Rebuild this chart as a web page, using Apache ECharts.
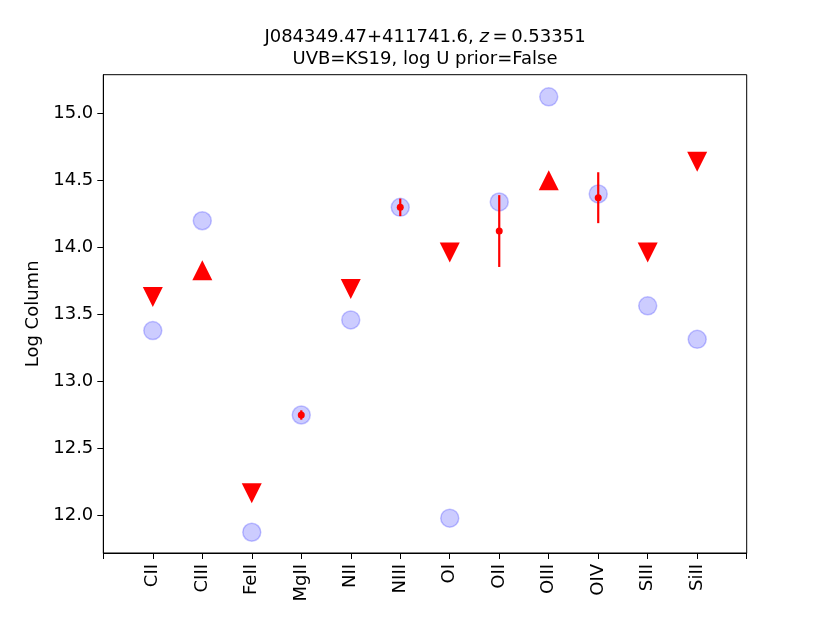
<!DOCTYPE html>
<html><head><meta charset="utf-8">
<script src="https://cdn.jsdelivr.net/npm/echarts@6/dist/echarts.min.js"></script>
<style>html,body{margin:0;padding:0;background:#fff}#c{width:830px;height:623px}</style>
</head><body><div id="c"></div>
<script>
const categories = ['CII','CIII','FeII','MgII','NII','NIII','OI','OII','OIII','OIV','SIII','SiII'];
const modelValues = [13.38, 14.20, 11.875, 12.75, 13.46, 14.30, 11.98, 14.34, 15.125, 14.40, 13.565, 13.315];
const upperLimitIons = ['CII','FeII','NII','OI','SIII','SiII'];
const upperLimitValues = [13.63, 12.166, 13.69, 13.962, 13.962, 14.64];
const lowerLimitIons = ['CIII','OIII'];
const lowerLimitValues = [13.83, 14.503];
const detectionIons = ['MgII','NIII','OII','OIV'];
const detectionValues = [12.75, 14.30, 14.123, 14.372];
const detectionErrors = [0.035, 0.065, 0.268, 0.19];
const yTickValues = [12.0, 12.5, 13.0, 13.5, 14.0, 14.5, 15.0];
const titleLine1 = 'J084349.47+411741.6, ';
const titleZ = 'z';
const titleZValue = '\u2009=\u20090.53351';
const titleLine2 = 'UVB=KS19, log U prior=False';
const yAxisName = 'Log Column';

const FONT = 'DejaVu Sans';
const idx = name => categories.indexOf(name);

const modelData = modelValues.map((v, i) => [i, v]);
const upperData = upperLimitIons.map((n, i) => [idx(n), upperLimitValues[i]]);
const lowerData = lowerLimitIons.map((n, i) => [idx(n), lowerLimitValues[i]]);
const detData = detectionIons.map((n, i) => [idx(n), detectionValues[i]]);
const errData = detectionIons.map((n, i) => [idx(n), detectionValues[i] - detectionErrors[i], detectionValues[i] + detectionErrors[i]]);

const chart = echarts.init(document.getElementById('c'), null, {renderer: 'canvas'});
chart.setOption({
  animation: false,
  backgroundColor: '#fff',
  textStyle: {fontFamily: FONT},
  grid: {left: 103.3, right: 83.3, top: 74.7, bottom: 70, show: true, borderColor: '#000', borderWidth: 1, containLabel: false},
  graphic: [
    {type: 'text', x: 425, y: 37, silent: true,
     style: {text: '{a|' + titleLine1 + '}{i|' + titleZ + '}{a|' + titleZValue + '}',
       x: 0, y: 0, align: 'center', verticalAlign: 'middle', textAlign: 'center', textVerticalAlign: 'middle',
       fill: '#000', font: '18px "DejaVu Sans"',
       rich: {a: {fontSize: 18, fontFamily: FONT, fill: '#000', color: '#000'}, i: {fontSize: 18, fontFamily: FONT, fontStyle: 'italic', fill: '#000', color: '#000'}}}},
    {type: 'text', x: 425, y: 59, silent: true,
     style: {text: titleLine2, x: 0, y: 0, align: 'center', verticalAlign: 'middle', textAlign: 'center', textVerticalAlign: 'middle', fill: '#000', font: '18px "DejaVu Sans"'}}
  ],
  xAxis: {
    type: 'value', min: -1, max: 12, interval: 1,
    splitLine: {show: false},
    axisLine: {show: true, onZero: false, lineStyle: {color: '#000', width: 1}},
    axisTick: {show: true, length: 6, lineStyle: {color: '#000', width: 1}},
    axisLabel: {rotate: 90, margin: 11, color: '#000', fontSize: 18, fontFamily: FONT,
      formatter: v => (Number.isInteger(v) && v >= 0 && v < categories.length) ? categories[v] : ''}
  },
  yAxis: {
    type: 'value', min: 11.72, max: 15.29,
    name: yAxisName, nameLocation: 'middle', nameRotate: 90, nameGap: 60,
    nameTextStyle: {color: '#000', fontSize: 18, fontFamily: FONT},
    splitLine: {show: false},
    axisLine: {show: true, onZero: false, lineStyle: {color: '#000', width: 1}},
    axisTick: {show: true, length: 6, customValues: yTickValues, lineStyle: {color: '#000', width: 1}},
    axisLabel: {customValues: yTickValues, margin: 10, color: '#000', fontSize: 18, fontFamily: FONT,
      formatter: v => Number(v).toFixed(1)}
  },
  series: [
    {type: 'scatter', data: modelData, symbol: 'circle', symbolSize: 18, silent: true,
     itemStyle: {color: 'rgba(0,0,255,0.2)', borderColor: 'rgba(0,0,255,0.22)', borderWidth: 1.5, opacity: 1}, z: 2},
    {type: 'scatter', data: upperData, symbol: 'triangle', symbolRotate: 180, symbolSize: [20, 20], silent: true,
     itemStyle: {color: '#ff0000', opacity: 1}, z: 3},
    {type: 'scatter', data: lowerData, symbol: 'triangle', symbolSize: [20, 20], silent: true,
     itemStyle: {color: '#ff0000', opacity: 1}, z: 3},
    {type: 'custom', data: errData, silent: true, z: 3,
     encode: {x: 0, y: [1, 2]},
     renderItem: (params, api) => {
       const p1 = api.coord([api.value(0), api.value(1)]);
       const p2 = api.coord([api.value(0), api.value(2)]);
       return {type: 'line', shape: {x1: p1[0], y1: p1[1], x2: p2[0], y2: p2[1]}, style: {stroke: '#ff0000', lineWidth: 2.2}};
     }},
    {type: 'scatter', data: detData, symbol: 'circle', symbolSize: 7, silent: true,
     itemStyle: {color: '#ff0000', opacity: 1}, z: 4}
  ]
});
</script></body></html>
